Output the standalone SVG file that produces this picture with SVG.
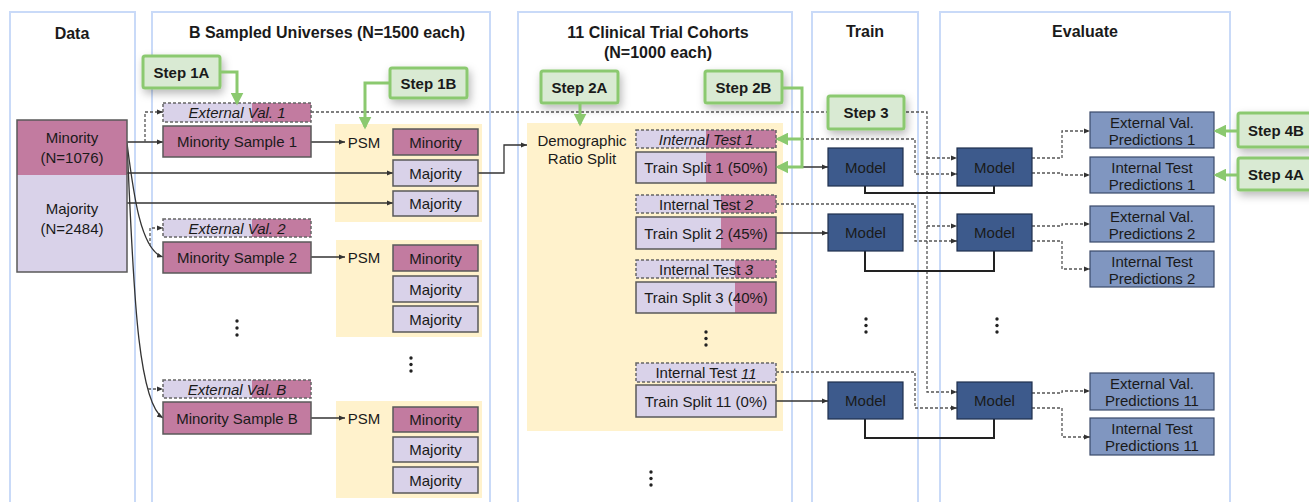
<svg xmlns="http://www.w3.org/2000/svg" width="1309" height="502" viewBox="0 0 1309 502">
<style>
text{font-family:"Liberation Sans",Arial,sans-serif;fill:#1a1a1a;}
.t{font-size:15px;text-anchor:middle;dominant-baseline:central;}
.ti{font-size:15px;text-anchor:middle;dominant-baseline:central;font-style:italic;}
.title{font-size:16px;font-weight:bold;text-anchor:middle;dominant-baseline:central;}
.panel{fill:#fff;stroke:#c9daf8;stroke-width:2;}
.min{fill:#c27ba0;}
.maj{fill:#d9d2e9;}
.box{fill:none;stroke:#595959;stroke-width:1.5;}
.dbox{fill:none;stroke:#666;stroke-width:1.5;stroke-dasharray:3 2;}
.yel{fill:#fff2cc;}
.model{fill:#3d5a8c;stroke:#1f2f4d;stroke-width:1.2;}
.pred{fill:#8096c0;stroke:#3a4a6a;stroke-width:1.2;}
.step rect{fill:#d9ead3;stroke:#8bc96f;stroke-width:3;filter:url(#sh);}
.step text{font-size:15px;font-weight:bold;text-anchor:middle;dominant-baseline:central;}
.ln{fill:none;stroke:#333;stroke-width:1.3;}
.br{fill:none;stroke:#222;stroke-width:2;}
.dl{fill:none;stroke:#555;stroke-width:1.3;stroke-dasharray:3 2;}
.gl{fill:none;stroke:#8bc96f;stroke-width:3;}
.dot{fill:#222;}
</style>
<defs>
<filter id="sh" x="-30%" y="-40%" width="160%" height="190%"><feDropShadow dx="2" dy="4" stdDeviation="4" flood-color="#000" flood-opacity="0.28"/></filter>
<marker id="ah" viewBox="0 0 10 10" refX="10" refY="5" markerWidth="6" markerHeight="6" markerUnits="userSpaceOnUse" orient="auto"><path d="M0,1 L10,5 L0,9z" fill="#333"/></marker>
<marker id="gh" viewBox="0 0 10 10" refX="8" refY="5" markerWidth="13" markerHeight="13" markerUnits="userSpaceOnUse" orient="auto"><path d="M0,0 L10,5 L0,10z" fill="#8bc96f"/></marker>
</defs>

<g id="panels">
<rect class="panel" x="10" y="12" width="125" height="500"/>
<rect class="panel" x="152" y="12" width="338" height="500"/>
<rect class="panel" x="518" y="12" width="274" height="500"/>
<rect class="panel" x="812" y="12" width="106" height="500"/>
<rect class="panel" x="940" y="12" width="290" height="500"/>
<text class="title" x="72" y="33">Data</text>
<text class="title" x="327" y="32">B Sampled Universes (N=1500 each)</text>
<text class="title" x="658" y="32">11 Clinical Trial Cohorts</text>
<text class="title" x="658" y="52">(N=1000 each)</text>
<text class="title" x="865" y="31">Train</text>
<text class="title" x="1085" y="31">Evaluate</text>
</g>

<g id="backgrounds">
<rect class="yel" x="335" y="124" width="147" height="98"/>
<rect class="yel" x="336" y="240" width="146" height="97"/>
<rect class="yel" x="336" y="401" width="146" height="97"/>
<rect class="yel" x="527" y="123" width="256" height="308"/>
</g>

<g id="connectors">
<path class="ln" d="M127,142 H163" marker-end="url(#ah)"/>
<path class="dl" d="M145,142 V112 H163" marker-end="url(#ah)"/>
<path class="ln" d="M127,173 H393" marker-end="url(#ah)"/>
<path class="ln" d="M127,203 H393" marker-end="url(#ah)"/>
<path class="ln" d="M127,143 C133,190 140,250 163,257" marker-end="url(#ah)"/>
<path class="dl" d="M150,246 V228 H163" marker-end="url(#ah)"/>
<path class="ln" d="M127,145 C133,260 135,400 163,418" marker-end="url(#ah)"/>
<path class="dl" d="M148,389 H163" marker-end="url(#ah)"/>
<path class="ln" d="M311,142 H345" marker-end="url(#ah)"/>
<path class="ln" d="M311,257 H345" marker-end="url(#ah)"/>
<path class="ln" d="M311,418 H345" marker-end="url(#ah)"/>
<path class="ln" d="M478,173 H504 V145 H527" marker-end="url(#ah)"/>
<path class="dl" d="M311,112 H927 V392 H957" marker-end="url(#ah)"/>
<path class="dl" d="M927,158 H957" marker-end="url(#ah)"/>
<path class="dl" d="M927,226 H957" marker-end="url(#ah)"/>
<path class="dl" d="M776,139 H915 V174 H957" marker-end="url(#ah)"/>
<path class="dl" d="M776,204 H915 V241 H957" marker-end="url(#ah)"/>
<path class="dl" d="M776,372 H915 V408 H957" marker-end="url(#ah)"/>
<path class="ln" d="M776,167 H828" marker-end="url(#ah)"/>
<path class="ln" d="M776,233 H828" marker-end="url(#ah)"/>
<path class="ln" d="M776,401 H828" marker-end="url(#ah)"/>
<path class="br" d="M865,186 V193 H994 V186"/>
<path class="br" d="M865,251 V271 H994 V251"/>
<path class="br" d="M865,419 V438 H994 V419"/>
<path class="dl" d="M1032,158 H1062 V131 H1090" marker-end="url(#ah)"/>
<path class="dl" d="M1032,173 H1062 V175 H1090" marker-end="url(#ah)"/>
<path class="dl" d="M1032,226 H1062 V224 H1090" marker-end="url(#ah)"/>
<path class="dl" d="M1032,241 H1062 V269 H1090" marker-end="url(#ah)"/>
<path class="dl" d="M1032,393 H1062 V391 H1090" marker-end="url(#ah)"/>
<path class="dl" d="M1032,408 H1062 V437 H1090" marker-end="url(#ah)"/>
</g>

<g id="data">
<rect class="min" x="17" y="120" width="110" height="55"/>
<rect class="maj" x="17" y="175" width="110" height="97"/>
<rect class="box" x="17" y="120" width="110" height="152"/>
<text class="t" x="72" y="137">Minority</text>
<text class="t" x="72" y="157">(N=1076)</text>
<text class="t" x="72" y="208">Majority</text>
<text class="t" x="72" y="228">(N=2484)</text>
</g>

<g id="extval1">
<rect class="maj" x="163" y="103" width="89" height="19"/><rect class="min" x="252" y="103" width="59" height="19"/>
<rect class="dbox" x="163" y="103" width="148" height="19"/>
<text class="ti" x="237" y="112.5">External Val. 1</text>
</g>
<g id="minsample1">
<rect class="min" x="163" y="126" width="148" height="31"/><rect class="box" x="163" y="126" width="148" height="31"/>
<text class="t" x="237" y="141.5">Minority Sample 1</text>
</g>
<g id="extval2">
<rect class="maj" x="163" y="219" width="89" height="18"/><rect class="min" x="252" y="219" width="59" height="18"/>
<rect class="dbox" x="163" y="219" width="148" height="18"/>
<text class="ti" x="237" y="228">External Val. 2</text>
</g>
<g id="minsample2">
<rect class="min" x="163" y="242" width="148" height="31"/><rect class="box" x="163" y="242" width="148" height="31"/>
<text class="t" x="237" y="257.5">Minority Sample 2</text>
</g>
<g id="extvalB">
<rect class="maj" x="163" y="380" width="89" height="18"/><rect class="min" x="252" y="380" width="59" height="18"/>
<rect class="dbox" x="163" y="380" width="148" height="18"/>
<text class="ti" x="237" y="389">External Val. B</text>
</g>
<g id="minsampleB">
<rect class="min" x="163" y="402" width="148" height="32"/><rect class="box" x="163" y="402" width="148" height="32"/>
<text class="t" x="237" y="418">Minority Sample B</text>
</g>

<g id="psm1">
<text class="t" x="364" y="142">PSM</text>
<rect class="min" x="393" y="129" width="85" height="26"/><rect class="box" x="393" y="129" width="85" height="26"/>
<text class="t" x="435.5" y="142">Minority</text>
<rect class="maj" x="393" y="160" width="85" height="26"/><rect class="box" x="393" y="160" width="85" height="26"/>
<text class="t" x="435.5" y="173">Majority</text>
<rect class="maj" x="393" y="191" width="85" height="25"/><rect class="box" x="393" y="191" width="85" height="25"/>
<text class="t" x="435.5" y="203.5">Majority</text>
</g>
<g id="psm2">
<text class="t" x="364" y="257">PSM</text>
<rect class="min" x="393" y="245" width="85" height="26"/><rect class="box" x="393" y="245" width="85" height="26"/>
<text class="t" x="435.5" y="258">Minority</text>
<rect class="maj" x="393" y="276" width="85" height="26"/><rect class="box" x="393" y="276" width="85" height="26"/>
<text class="t" x="435.5" y="289">Majority</text>
<rect class="maj" x="393" y="306" width="85" height="26"/><rect class="box" x="393" y="306" width="85" height="26"/>
<text class="t" x="435.5" y="319">Majority</text>
</g>
<g id="psmB">
<text class="t" x="364" y="418">PSM</text>
<rect class="min" x="393" y="407" width="85" height="25"/><rect class="box" x="393" y="407" width="85" height="25"/>
<text class="t" x="435.5" y="419.5">Minority</text>
<rect class="maj" x="393" y="437" width="85" height="25"/><rect class="box" x="393" y="437" width="85" height="25"/>
<text class="t" x="435.5" y="449.5">Majority</text>
<rect class="maj" x="393" y="467" width="85" height="26"/><rect class="box" x="393" y="467" width="85" height="26"/>
<text class="t" x="435.5" y="480">Majority</text>
</g>

<g id="dots">
<circle class="dot" cx="237" cy="321" r="1.7"/><circle class="dot" cx="237" cy="328" r="1.7"/><circle class="dot" cx="237" cy="335" r="1.7"/>
<circle class="dot" cx="411" cy="358" r="1.7"/><circle class="dot" cx="411" cy="364.5" r="1.7"/><circle class="dot" cx="411" cy="371" r="1.7"/>
<circle class="dot" cx="706" cy="332" r="1.7"/><circle class="dot" cx="706" cy="338.5" r="1.7"/><circle class="dot" cx="706" cy="345" r="1.7"/>
<circle class="dot" cx="651" cy="472" r="1.7"/><circle class="dot" cx="651" cy="478.5" r="1.7"/><circle class="dot" cx="651" cy="485" r="1.7"/>
<circle class="dot" cx="866" cy="319" r="1.7"/><circle class="dot" cx="866" cy="325.5" r="1.7"/><circle class="dot" cx="866" cy="332" r="1.7"/>
<circle class="dot" cx="997" cy="319" r="1.7"/><circle class="dot" cx="997" cy="325.5" r="1.7"/><circle class="dot" cx="997" cy="332" r="1.7"/>
</g>

<g id="demographic">
<text class="t" x="582" y="140">Demographic</text>
<text class="t" x="582" y="158">Ratio Split</text>
</g>

<g id="cohort1">
<rect class="maj" x="636" y="130" width="70" height="18"/><rect class="min" x="706" y="130" width="70" height="18"/>
<rect class="dbox" x="636" y="130" width="140" height="18"/>
<text class="ti" x="706" y="139">Internal Test 1</text>
<rect class="maj" x="636" y="152" width="70" height="31"/><rect class="min" x="706" y="152" width="70" height="31"/>
<rect class="box" x="636" y="152" width="140" height="31"/>
<text class="t" x="706" y="167.5">Train Split 1 (50%)</text>
</g>
<g id="cohort2">
<rect class="maj" x="636" y="195" width="85" height="18"/><rect class="min" x="721" y="195" width="55" height="18"/>
<rect class="dbox" x="636" y="195" width="140" height="18"/>
<text class="t" x="706" y="204">Internal Test <tspan font-style="italic">2</tspan></text>
<rect class="maj" x="636" y="217" width="85" height="32"/><rect class="min" x="721" y="217" width="55" height="32"/>
<rect class="box" x="636" y="217" width="140" height="32"/>
<text class="t" x="706" y="233">Train Split 2 (45%)</text>
</g>
<g id="cohort3">
<rect class="maj" x="636" y="260" width="99" height="18"/><rect class="min" x="735" y="260" width="41" height="18"/>
<rect class="dbox" x="636" y="260" width="140" height="18"/>
<text class="t" x="706" y="269">Internal Test <tspan font-style="italic">3</tspan></text>
<rect class="maj" x="636" y="282" width="99" height="31"/><rect class="min" x="735" y="282" width="41" height="31"/>
<rect class="box" x="636" y="282" width="140" height="31"/>
<text class="t" x="706" y="297.5">Train Split 3 (40%)</text>
</g>
<g id="cohort11">
<rect class="maj" x="636" y="363" width="140" height="19"/>
<rect class="dbox" x="636" y="363" width="140" height="19"/>
<text class="t" x="706" y="372.5">Internal Test <tspan font-style="italic">11</tspan></text>
<rect class="maj" x="636" y="385" width="140" height="32"/>
<rect class="box" x="636" y="385" width="140" height="32"/>
<text class="t" x="706" y="401">Train Split 11 (0%)</text>
</g>

<g id="train-models">
<rect class="model" x="828" y="148" width="75" height="38"/><text class="t" x="865.5" y="167">Model</text>
<rect class="model" x="828" y="214" width="75" height="37"/><text class="t" x="865.5" y="232.5">Model</text>
<rect class="model" x="828" y="382" width="75" height="37"/><text class="t" x="865.5" y="400.5">Model</text>
</g>
<g id="eval-models">
<rect class="model" x="957" y="148" width="75" height="38"/><text class="t" x="994.5" y="167">Model</text>
<rect class="model" x="957" y="214" width="75" height="37"/><text class="t" x="994.5" y="232.5">Model</text>
<rect class="model" x="957" y="382" width="75" height="37"/><text class="t" x="994.5" y="400.5">Model</text>
</g>

<g id="predictions">
<rect class="pred" x="1090" y="112" width="124" height="36"/><text class="t" x="1152" y="122">External Val.</text><text class="t" x="1152" y="139">Predictions 1</text>
<rect class="pred" x="1090" y="157" width="124" height="36"/><text class="t" x="1152" y="167">Internal Test</text><text class="t" x="1152" y="184">Predictions 1</text>
<rect class="pred" x="1090" y="206" width="124" height="36"/><text class="t" x="1152" y="216">External Val.</text><text class="t" x="1152" y="233">Predictions 2</text>
<rect class="pred" x="1090" y="251" width="124" height="36"/><text class="t" x="1152" y="261">Internal Test</text><text class="t" x="1152" y="278">Predictions 2</text>
<rect class="pred" x="1090" y="373" width="124" height="37"/><text class="t" x="1152" y="383">External Val.</text><text class="t" x="1152" y="400.5">Predictions 11</text>
<rect class="pred" x="1090" y="418" width="124" height="37"/><text class="t" x="1152" y="428">Internal Test</text><text class="t" x="1152" y="445.5">Predictions 11</text>
</g>

<g id="step1A" class="step"><rect x="143" y="56" width="77" height="32" rx="2"/><text x="181.5" y="72">Step 1A</text></g>
<g id="step1B" class="step"><rect x="390" y="68" width="77" height="30" rx="2"/><text x="428.5" y="83">Step 1B</text></g>
<g id="step2A" class="step"><rect x="541" y="71" width="77" height="32" rx="2"/><text x="579.5" y="87">Step 2A</text></g>
<g id="step2B" class="step"><rect x="705" y="71" width="77" height="32" rx="2"/><text x="743.5" y="87">Step 2B</text></g>
<g id="step3" class="step"><rect x="828" y="96" width="76" height="33" rx="2"/><text x="866" y="112.5">Step 3</text></g>
<g id="step4B" class="step"><rect x="1238" y="113" width="76" height="34" rx="2"/><text x="1276" y="130">Step 4B</text></g>
<g id="step4A" class="step"><rect x="1238" y="158" width="76" height="32" rx="2"/><text x="1276" y="174">Step 4A</text></g>

<g id="step-connectors">
<path class="gl" d="M220,72 H237 V103" marker-end="url(#gh)"/>
<path class="gl" d="M390,83 H365 V127" marker-end="url(#gh)"/>
<path class="gl" d="M580,103 V124" marker-end="url(#gh)"/>
<path class="gl" d="M782,88 H802 V167 H778" marker-end="url(#gh)"/>
<path class="gl" d="M802,139 H778" marker-end="url(#gh)"/>
<path class="gl" d="M1238,131 H1216" marker-end="url(#gh)"/>
<path class="gl" d="M1238,175 H1216" marker-end="url(#gh)"/>
</g>
</svg>
